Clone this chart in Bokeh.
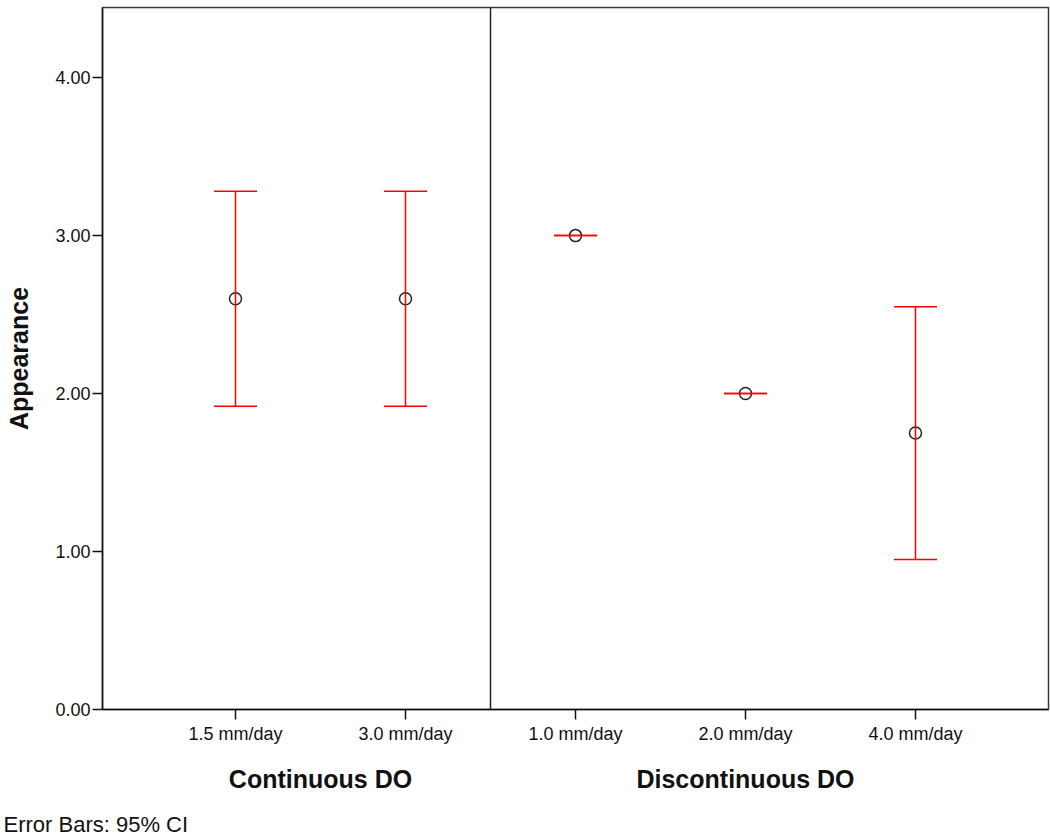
from bokeh.plotting import figure
from bokeh.models import (Range1d, FixedTicker, LinearAxis, Span, Whisker, TeeHead,
                          ColumnDataSource, NumeralTickFormatter, Title)
from bokeh.embed import file_html
from bokeh.resources import INLINE

# ---- data ----
categories = ["1.5 mm/day", "3.0 mm/day", "1.0 mm/day", "2.0 mm/day", "4.0 mm/day"]
groups = ["Continuous DO", "Continuous DO", "Discontinuous DO", "Discontinuous DO", "Discontinuous DO"]
means = [2.60, 2.60, 3.00, 2.00, 1.75]
ci_lower = [1.92, 1.92, 3.00, 2.00, 0.95]
ci_upper = [3.28, 3.28, 3.00, 2.00, 2.55]
y_ticks = [0, 1, 2, 3, 4]
footnote = "Error Bars: 95% CI"

FONT = "Liberation Sans"
positions = list(range(1, len(categories) + 1))
group_names = list(dict.fromkeys(groups))
group_centers = {g: sum(x for x, gg in zip(positions, groups) if gg == g) /
                 sum(1 for gg in groups if gg == g) for g in group_names}
n_first = groups.count(group_names[0])
divider = n_first + 0.5

src = ColumnDataSource(dict(x=positions, mean=means, lower=ci_lower, upper=ci_upper))

pad = 0.7824
p = figure(width=1050, height=836, output_backend="svg", toolbar_location=None,
           x_range=Range1d(positions[0] - pad, positions[-1] + pad),
           y_range=Range1d(0, 4.444),
           min_border_left=102, min_border_right=2, min_border_top=7, min_border_bottom=127)
p.xgrid.visible = False
p.ygrid.visible = False
p.outline_line_color = "#3a3a3a"
p.outline_line_width = 1.5
p.background_fill_color = "white"

# x axis with category ticks
xa = p.xaxis[0]
xa.ticker = FixedTicker(ticks=positions)
xa.major_label_overrides = {x: c for x, c in zip(positions, categories)}
xa.minor_tick_line_color = None
xa.major_tick_in = 0
xa.major_tick_out = 10
xa.major_label_standoff = 4
xa.major_label_text_font = FONT
xa.major_label_text_font_size = "18px"
xa.major_label_text_color = "#111111"
xa.axis_line_color = "#111111"
xa.axis_line_width = 1.5
xa.major_tick_line_color = "#111111"
xa.major_tick_line_width = 1.5

# group labels
ga = LinearAxis(ticker=FixedTicker(ticks=[group_centers[g] for g in group_names]),
                major_label_overrides={group_centers[g]: g for g in group_names})
ga.axis_line_color = None
ga.major_tick_line_color = None
ga.minor_tick_line_color = None
ga.major_tick_out = 0
ga.major_tick_in = 0
ga.major_label_standoff = 18
ga.major_label_text_font = FONT
ga.major_label_text_font_size = "25px"
ga.major_label_text_font_style = "bold"
ga.major_label_text_color = "#111111"
# invisible spacer below the group labels
ga.axis_label = "\u00a0"
ga.axis_label_text_font_size = "4px"
ga.axis_label_standoff = 6
p.add_layout(ga, "below")

# y axis
ya = p.yaxis[0]
ya.ticker = FixedTicker(ticks=y_ticks)
ya.formatter = NumeralTickFormatter(format="0.00")
ya.minor_tick_line_color = None
ya.major_tick_in = 0
ya.major_tick_out = 10
ya.major_label_standoff = 2
ya.major_label_text_font = FONT
ya.major_label_text_font_size = "18px"
ya.major_label_text_color = "#111111"
ya.axis_line_color = "#111111"
ya.axis_line_width = 1.5
ya.major_tick_line_color = "#111111"
ya.major_tick_line_width = 1.5
ya.axis_label = "Appearance"
ya.axis_label_text_font = FONT
ya.axis_label_text_font_size = "25px"
ya.axis_label_text_font_style = "bold"
ya.axis_label_text_color = "#111111"
ya.axis_label_standoff = 19

# panel divider
p.add_layout(Span(location=divider, dimension="height", line_color="#222222", line_width=1.5))

# error bars
head_u = TeeHead(size=43, line_color="red", line_width=1.5)
head_l = TeeHead(size=43, line_color="red", line_width=1.5)
p.add_layout(Whisker(source=src, base="x", upper="upper", lower="lower",
                     line_color="red", line_width=1.5,
                     upper_head=head_u, lower_head=head_l, level="glyph"))

# means
p.scatter("x", "mean", source=src, marker="circle", size=12, fill_color=None,
          line_color="#222222", line_width=1.5)

# footnote
p.add_layout(Title(text=footnote, align="left", offset=-99, standoff=0,
                   text_font=FONT, text_font_size="22px", text_font_style="normal",
                   text_color="#111111"), "below")

open("out.html", "w").write(file_html(p, INLINE))
